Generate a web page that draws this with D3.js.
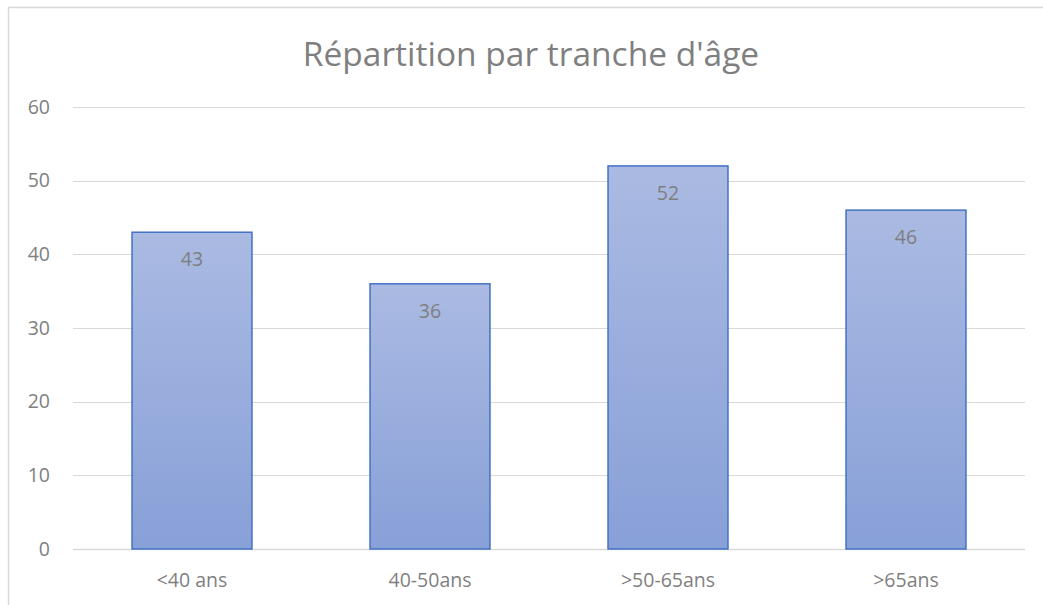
<!DOCTYPE html>
<html>
<head>
<meta charset="utf-8">
<script src="https://cdn.jsdelivr.net/npm/d3@7"></script>
<style>
  body { margin: 0; background: #fff; }
  text { font-family: "Open Sans", "Noto Sans", sans-serif; }
</style>
</head>
<body>
<svg id="chart" width="1043" height="605"></svg>
<script>
const categories = ['<40 ans', '40-50ans', '>50-65ans', '>65ans'];
const values = [43, 36, 52, 46];
const yTicks = [0, 10, 20, 30, 40, 50, 60];
const title = "Répartition par tranche d'âge";

const opts = {
  width: 1043,
  height: 605,
  left: 73,
  right: 1025,
  top: 107,
  bottom: 549,
  textColor: '#7f7f7f',
  fontSize: 19.5,
};

const svg = d3.select('#chart');

// outer chart border (only left / top visible in the crop)
svg.append('rect')
  .attr('x', 8.5).attr('y', 7.5)
  .attr('width', 1100).attr('height', 700)
  .attr('fill', '#fff')
  .attr('stroke', '#d9d9d9')
  .attr('stroke-width', 1.5);

const defs = svg.append('defs');
const grad = defs.append('linearGradient')
  .attr('id', 'barGrad')
  .attr('x1', 0).attr('y1', 0).attr('x2', 0).attr('y2', 1);
grad.append('stop').attr('offset', '0%').attr('stop-color', '#aabae2');
grad.append('stop').attr('offset', '100%').attr('stop-color', '#88a0d8');

const x = d3.scaleBand().domain(categories).range([opts.left, opts.right]).paddingInner(0.496).paddingOuter(0.248);
const y = d3.scaleLinear().domain([0, 60]).range([opts.bottom, opts.top]);

// gridlines
svg.append('g').classed('grid', true).selectAll('line').data(yTicks).enter()
  .append('line')
  .attr('x1', opts.left)
  .attr('x2', opts.right)
  .attr('y1', d => Math.round(y(d)) + 0.5)
  .attr('y2', d => Math.round(y(d)) + 0.5)
  .attr('stroke', '#d9d9d9')
  .attr('stroke-width', d => d === 0 ? 1.5 : 1);

// y tick labels
svg.append('g').selectAll('text').data(yTicks).enter()
  .append('text')
  .attr('x', 50)
  .attr('y', d => y(d))
  .attr('dy', '0.35em')
  .attr('text-anchor', 'end')
  .attr('font-size', opts.fontSize)
  .attr('fill', opts.textColor)
  .text(d => d);

// bars
svg.append('g').classed('bars', true).selectAll('rect').data(values).enter()
  .append('rect')
  .attr('x', (d, i) => x(categories[i]))
  .attr('y', d => y(d))
  .attr('width', x.bandwidth())
  .attr('height', d => opts.bottom - y(d))
  .attr('fill', 'url(#barGrad)')
  .attr('stroke', '#4472c4')
  .attr('stroke-width', 1.5);

// value labels (inside end)
svg.append('g').selectAll('text').data(values).enter()
  .append('text')
  .attr('x', (d, i) => x(categories[i]) + x.bandwidth() / 2)
  .attr('y', d => y(d) + 27)
  .attr('dy', '0.35em')
  .attr('text-anchor', 'middle')
  .attr('font-size', opts.fontSize)
  .attr('fill', '#7f7f7f')
  .text(d => d);

// category labels
svg.append('g').selectAll('text').data(categories).enter()
  .append('text')
  .attr('x', d => x(d) + x.bandwidth() / 2)
  .attr('y', 580)
  .attr('dy', '0.35em')
  .attr('text-anchor', 'middle')
  .attr('font-size', opts.fontSize)
  .attr('fill', opts.textColor)
  .text(d => d);

// title
svg.append('text')
  .attr('x', 531)
  .attr('y', 54)
  .attr('dy', '0.35em')
  .attr('text-anchor', 'middle')
  .attr('font-size', 33.5)
  .attr('fill', '#7f7f7f')
  .text(title);
</script>
</body>
</html>
